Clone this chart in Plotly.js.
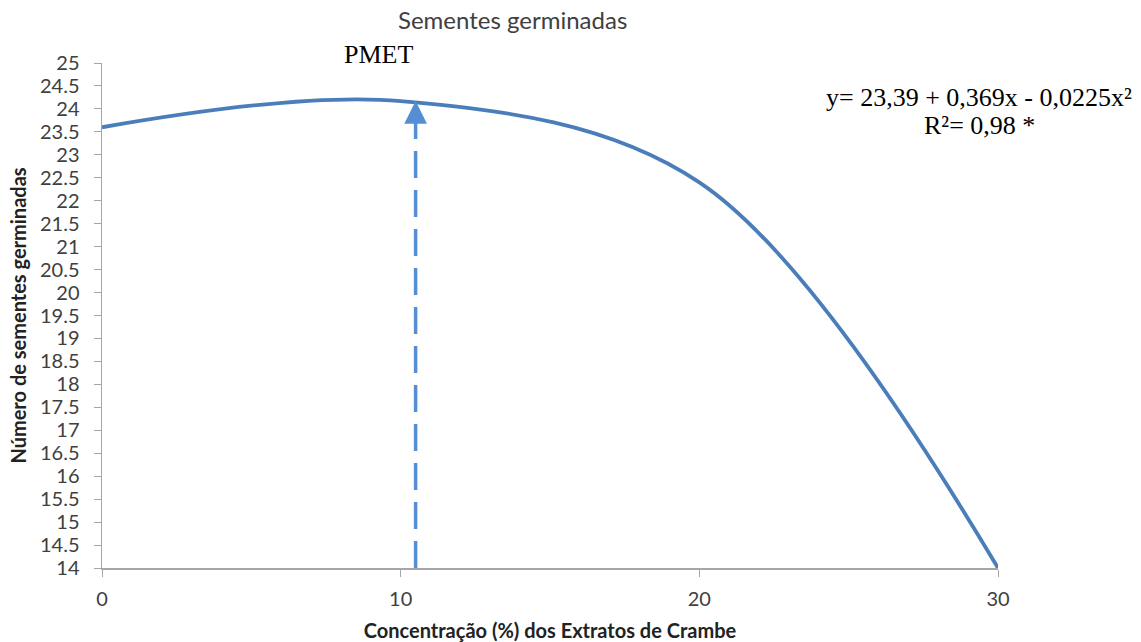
<!DOCTYPE html>
<html>
<head>
<meta charset="utf-8">
<script src="https://cdn.plot.ly/plotly-3.0.1.min.js"></script>
<style>
  html, body { margin: 0; padding: 0; background: #fff; }
  #chart { width: 1141px; height: 642px; }
</style>
</head>
<body>
<div id="chart"></div>
<script>
// Concentration of crambe extract (%) and germinated seeds
const concentracao = [0, 10, 20, 30];
const sementes = [23.6, 24.17, 22.4, 14];

// PMET marker position on the x axis and where its arrow meets the curve
const pmetX = 10.5;
const pmetY = 24.17;

const yTicks = [];
for (let v = 14; v <= 25.001; v += 0.5) yTicks.push(Math.round(v * 10) / 10);
const yTickText = yTicks.map(v => String(v));

const xTicks = [0, 10, 20, 30];
const xTickText = ['0', '10', '20', '30'];

const equacaoLinha1 = 'y= 23,39 + 0,369x - 0,0225x²';
const equacaoLinha2 = 'R²= 0,98 *';

const sans = 'Lato, "Open Sans", sans-serif';
const serif = '"Liberation Serif", "Times New Roman", serif';

const trace = {
  x: concentracao,
  y: sementes,
  type: 'scatter',
  mode: 'lines',
  line: { color: '#4a7ebb', width: 3.8, shape: 'spline', smoothing: 1 },
  hoverinfo: 'skip'
};

// plot area: 896 px wide, 505 px tall
const pxX = px => (px - 102) / 896 * 30;
const pxY = py => 14 + (568 - py) / 505 * 11;

const layout = {
  width: 1141,
  height: 642,
  margin: { l: 102, r: 143, t: 63, b: 74 },
  paper_bgcolor: '#ffffff',
  plot_bgcolor: '#ffffff',
  showlegend: false,
  xaxis: {
    range: [0, 30],
    tickvals: xTicks,
    ticktext: xTickText,
    showgrid: false,
    zeroline: false,
    showline: true,
    linecolor: '#a6a6a6',
    linewidth: 1.5,
    ticks: 'outside',
    ticklen: 7,
    tickcolor: '#a6a6a6',
    ticklabelstandoff: 5,
    tickfont: { family: sans, size: 20, color: '#404040' },
    title: {
      text: '<b>Concentração (%) dos Extratos de Crambe</b>',
      font: { family: sans, size: 20, color: '#222' },
      standoff: 16
    }
  },
  yaxis: {
    range: [14, 25],
    tickvals: yTicks,
    ticktext: yTickText,
    showgrid: false,
    zeroline: false,
    showline: true,
    linecolor: '#a6a6a6',
    linewidth: 1.5,
    ticks: 'outside',
    ticklen: 7,
    tickcolor: '#a6a6a6',
    ticklabelstandoff: 10,
    tickfont: { family: sans, size: 20, color: '#404040' },
    title: {
      text: '<b>Número de sementes germinadas</b>',
      font: { family: sans, size: 20, color: '#222' },
      standoff: 8
    }
  },
  shapes: [
    {
      type: 'line',
      xref: 'x', yref: 'y',
      x0: pmetX, x1: pmetX,
      y0: 14, y1: pmetY - 0.32,
      line: { color: '#558ed5', width: 3.5, dash: '27px,12px' }
    }
  ],
  annotations: [
    {
      xref: 'x', yref: 'paper',
      x: pxX(512), y: 1.0 + 43 / 505,
      text: 'Sementes germinadas',
      showarrow: false,
      xanchor: 'center', yanchor: 'middle',
      font: { family: sans, size: 24, color: '#404040' }
    },
    {
      xref: 'x', yref: 'paper',
      x: pxX(378), y: 1.0 + 8 / 505,
      text: 'PMET',
      showarrow: false,
      xanchor: 'center', yanchor: 'middle',
      font: { family: serif, size: 26, color: '#000' }
    },
    {
      xref: 'x', yref: 'y',
      x: pxX(979), y: pxY(97),
      text: equacaoLinha1,
      showarrow: false,
      xanchor: 'center', yanchor: 'middle',
      font: { family: serif, size: 26, color: '#000' }
    },
    {
      xref: 'x', yref: 'y',
      x: pxX(979), y: pxY(125),
      text: equacaoLinha2,
      showarrow: false,
      xanchor: 'center', yanchor: 'middle',
      font: { family: serif, size: 26, color: '#000' }
    },
    {
      xref: 'x', yref: 'y',
      x: pmetX, y: pmetY,
      axref: 'x', ayref: 'y',
      ax: pmetX, ay: pmetY - 0.35,
      text: '',
      showarrow: true,
      arrowhead: 2,
      arrowsize: 1.3,
      arrowwidth: 3.5,
      arrowcolor: '#558ed5',
      standoff: 0
    }
  ]
};

Plotly.newPlot('chart', [trace], layout, { displayModeBar: false, staticPlot: true });
</script>
</body>
</html>
